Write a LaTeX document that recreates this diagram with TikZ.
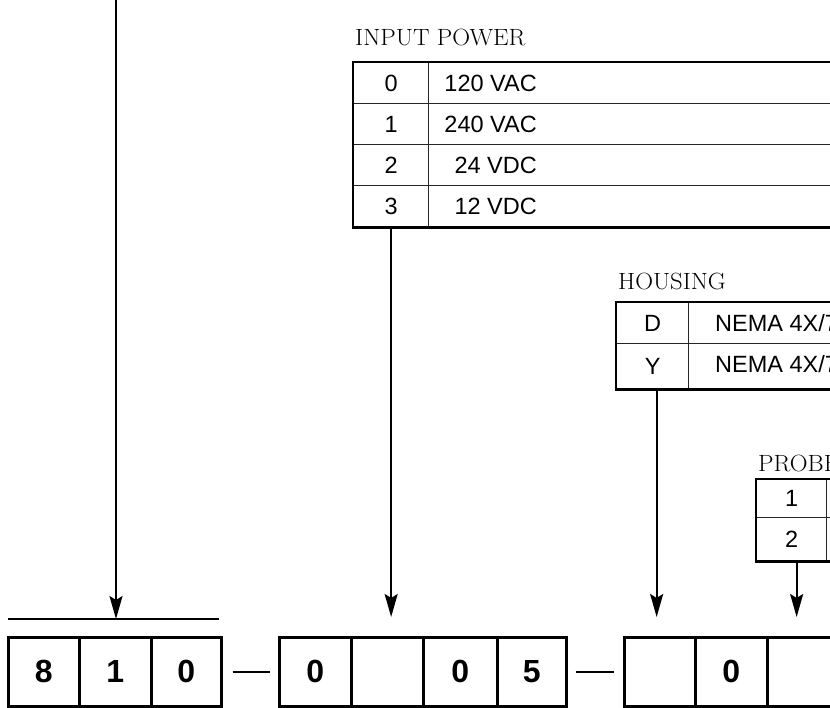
\documentclass[tikz,border=0pt]{standalone}
\usepackage{fontspec}
\newfontfamily\mysans{Liberation Sans}
\newcommand\mytab{\mysans\fontsize{23.5pt}{28pt}\selectfont}
\newcommand\mybig{\mysans\bfseries\fontsize{32pt}{38pt}\selectfont}
\newcommand\mylab{\rmfamily\fontsize{23.5pt}{28pt}\selectfont}
\usetikzlibrary{arrows.meta}
\begin{document}
\begin{tikzpicture}[x=1pt,y=-1pt,
  tcell/.style={draw=black!85, line width=1.3pt, inner sep=0pt, anchor=north west, font=\mytab},
  bcell/.style={draw, line width=2.5pt, inner sep=0pt, anchor=north west, minimum height=69pt, font=\mybig},
  ttext/.style={inner sep=0pt, font=\mytab},
  lab/.style={inner sep=0pt, anchor=base west, font=\mylab, xscale=1.05},
  outer/.style={line width=2.7pt},
  arr/.style={line width=2.2pt, -{Stealth[length=23pt,width=13pt,inset=4pt]}},
  dashline/.style={line width=2.2pt}]
\useasboundingbox (0,0) rectangle (830,707);
\clip (0,0) rectangle (830,707);

% ---------- bottom code boxes ----------
\node[bcell, minimum width=71pt] (b11) at (7,636) {8};
\node[bcell, minimum width=72pt] (b12) at (78,636) {1};
\node[bcell, minimum width=70pt] (b13) at (150,636) {0};

\node[bcell, minimum width=72pt] (b21) at (278,636) {0};
\node[bcell, minimum width=72pt] (b22) at (350,636) {};
\node[bcell, minimum width=74pt] (b23) at (422,636) {0};
\node[bcell, minimum width=69pt] (b24) at (496,636) {5};

\node[bcell, minimum width=71pt] (b31) at (623,636) {};
\node[bcell, minimum width=72pt] (b32) at (694,636) {0};
\node[bcell, minimum width=72pt] (b33) at (766,636) {};

\draw[dashline] ([xshift=10pt]b13.east) -- ([xshift=-8pt]b21.west);
\draw[dashline] ([xshift=8pt]b24.east) -- ([xshift=-9pt]b31.west);

\coordinate (barL) at (8,619);
\coordinate (barR) at (219,619);
\draw[dashline] (barL) -- (barR);
\coordinate (topc) at (116,0);
\draw[arr] (topc) -- (topc |- barL);

% ---------- INPUT POWER ----------
\node[lab] (iplab) at (355,45) {INPUT POWER};
\node[tcell, minimum width=75pt, minimum height=41pt] (ip0) at (353,62) {0};
\node[tcell, minimum width=75pt, minimum height=41pt] (ip1) at (353,103) {1};
\node[tcell, minimum width=75pt, minimum height=41pt] (ip2) at (353,144) {2};
\node[tcell, minimum width=75pt, minimum height=41pt] (ip3) at (353,185) {3};
\node[tcell, minimum width=460pt, minimum height=41pt] (ipa0) at (428,62) {};
\node[tcell, minimum width=460pt, minimum height=41pt] (ipa1) at (428,103) {};
\node[tcell, minimum width=460pt, minimum height=41pt] (ipa2) at (428,144) {};
\node[tcell, minimum width=460pt, minimum height=41pt] (ipa3) at (428,185) {};
\node[ttext, anchor=east] (ipt0) at (537,83.5) {120 VAC};
\node[ttext, anchor=east] (ipt1) at (537,124.5) {240 VAC};
\node[ttext, anchor=east] (ipt2) at (537,165.5) {24 VDC};
\node[ttext, anchor=east] (ipt3) at (537,206.5) {12 VDC};
\draw[outer] (ip0.north west) rectangle (ipa3.south east);
\draw[arr, shorten >=19pt] (ip3.south) -- (ip3.south |- b22.north);

% ---------- HOUSING ----------
\node[lab] (hlab) at (618,289) {HOUSING};
\node[tcell, minimum width=72pt, minimum height=41pt] (hD) at (616,302) {D};
\node[tcell, minimum width=72pt, minimum height=45pt] (hY) at (616,343) {Y};
\node[tcell, minimum width=300pt, minimum height=41pt] (hDa) at (688,302) {};
\node[tcell, minimum width=300pt, minimum height=45pt] (hYa) at (688,343) {};
\node[ttext, anchor=west] (hDt) at (715,323) {NEMA 4X/7};
\node[ttext, anchor=west] (hYt) at (715,364) {NEMA 4X/7};
\draw[outer] (hD.north west) rectangle (hYa.south east);
\draw[arr, shorten >=19pt] ([xshift=4pt]hY.south) -- ([xshift=4pt]hY.south |- b31.north);

% ---------- PROBE ----------
\node[lab] (plab) at (758,471) {PROBE};
\node[tcell, minimum width=70pt, minimum height=38pt] (p1) at (756,479) {1};
\node[tcell, minimum width=70pt, minimum height=43pt] (p2) at (756,517) {2};
\node[tcell, minimum width=200pt, minimum height=38pt] (p1a) at (826,479) {};
\node[tcell, minimum width=200pt, minimum height=43pt] (p2a) at (826,517) {};
\draw[outer] (p1.north west) rectangle (p2a.south east);
\draw[arr, shorten >=19pt] ([xshift=5pt]p2.south) -- ([xshift=5pt]p2.south |- b33.north);
\end{tikzpicture}
\end{document}
